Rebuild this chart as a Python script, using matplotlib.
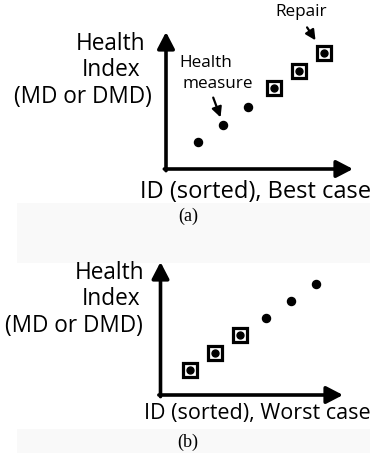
import matplotlib
matplotlib.use("Agg")
import matplotlib.pyplot as plt
from matplotlib.patches import Rectangle

# Schematic data: sorted IDs and their health index (MD or DMD)
ids = [1, 2, 3, 4, 5, 6]
health_best = [1.5, 2.5, 3.5, 4.55, 5.5, 6.5]
health_worst = [1.4, 2.36, 3.37, 4.33, 5.28, 6.24]
repaired_best = [False, False, False, True, True, True]
repaired_worst = [True, True, True, False, False, False]

x_label_best = "ID (sorted), Best case"
x_label_worst = "ID (sorted), Worst case"
y_label_lines = ["Health", "Index", "(MD or DMD)"]
captions = ["(a)", "(b)"]

W, H = 374, 457
SANS = ["Open Sans", "DejaVu Sans"]
SERIF = ["Liberation Serif", "DejaVu Serif"]
BIG = 16.3

fig = plt.figure(figsize=(W / 100, H / 100), dpi=100)
fig.patch.set_facecolor("white")


def fx(x):
    return x / W


def fy(y):
    return 1 - y / H


def add_panel(left, right, bottom, top, xlim, ylim):
    ax = fig.add_axes([fx(left), fy(bottom), fx(right) - fx(left), fy(top) - fy(bottom)])
    ax.set_xlim(*xlim)
    ax.set_ylim(*ylim)
    ax.axis("off")
    arrow = dict(arrowstyle="-|>,head_length=1.0,head_width=0.52", mutation_scale=10,
                 lw=2.6, color="black", shrinkA=0, shrinkB=0)
    ax.annotate("", xy=(0, 1), xytext=(0, -0.012), xycoords="axes fraction",
                arrowprops=arrow, annotation_clip=False)
    ax.annotate("", xy=(1, 0), xytext=(-0.009, 0), xycoords="axes fraction",
                arrowprops=arrow, annotation_clip=False)
    return ax


def draw_points(ax, xs, ys, repaired):
    for x, y, r in zip(xs, ys, repaired):
        if r:
            ax.plot(x, y, marker="s", ms=10.0, mfc="white", mec="black", mew=2.3,
                    ls="none", clip_on=False, zorder=3)
            ax.plot(x, y, marker="o", ms=5.0, color="black", ls="none",
                    clip_on=False, zorder=4)
        else:
            ax.plot(x, y, marker="o", ms=5.8, color="black", ls="none",
                    clip_on=False, zorder=4)


# light caption bands
for y0, y1 in [(203, 263), (429, 453)]:
    fig.patches.append(Rectangle((fx(17), fy(y1)), fx(370) - fx(17), fy(y0) - fy(y1),
                                 transform=fig.transFigure, facecolor="#f9f9f9",
                                 edgecolor="none", zorder=0))

small_arrow = dict(arrowstyle="-|>,head_length=0.6,head_width=0.3",
                   mutation_scale=10, lw=1.6, color="black", shrinkA=0)

# (a) best case
ax1 = add_panel(166, 353, 169, 32, (-0.27, 7.15), (0, 7.7))
draw_points(ax1, ids, health_best, repaired_best)
ax1.annotate("", xy=(ids[1], health_best[1]), xytext=(-7.2, 19.4),
             textcoords="offset points",
             arrowprops=dict(small_arrow, shrinkB=5.5), annotation_clip=False)
ax1.annotate("", xy=(ids[5], health_best[5]), xytext=(-12.2, 18.7),
             textcoords="offset points",
             arrowprops=dict(small_arrow, shrinkB=11.2), annotation_clip=False)
fig.text(fx(179), fy(63), "Health", family=SANS, fontsize=12.3, ha="left", va="center")
fig.text(fx(183), fy(84), "measure", family=SANS, fontsize=12.3, ha="left", va="center")
fig.text(fx(301), fy(12), "Repair", family=SANS, fontsize=12.3, ha="center", va="center")

fig.text(fx(111), fy(44), y_label_lines[0], family=SANS, fontsize=BIG, ha="center", va="center")
fig.text(fx(111), fy(70), y_label_lines[1], family=SANS, fontsize=BIG, ha="center", va="center")
fig.text(fx(83), fy(97), y_label_lines[2], family=SANS, fontsize=BIG, ha="center", va="center")
fig.text(fx(371), fy(192), x_label_best, family=SANS, fontsize=17.0, ha="right", va="center")
fig.text(fx(188), fy(216), captions[0], family=SERIF, fontsize=13, ha="center", va="center")

# (b) worst case
ax2 = add_panel(160.5, 343, 395, 262, (-0.17, 7.07), (0, 7.47))
draw_points(ax2, ids, health_worst, repaired_worst)
fig.text(fx(110), fy(273), y_label_lines[0], family=SANS, fontsize=BIG, ha="center", va="center")
fig.text(fx(111), fy(299), y_label_lines[1], family=SANS, fontsize=BIG, ha="center", va="center")
fig.text(fx(74), fy(326), y_label_lines[2], family=SANS, fontsize=BIG, ha="center", va="center")
fig.text(fx(371), fy(413), x_label_worst, family=SANS, fontsize=15.5, ha="right", va="center")
fig.text(fx(188), fy(442), captions[1], family=SERIF, fontsize=13, ha="center", va="center")

fig.savefig("out.png", dpi=100)
